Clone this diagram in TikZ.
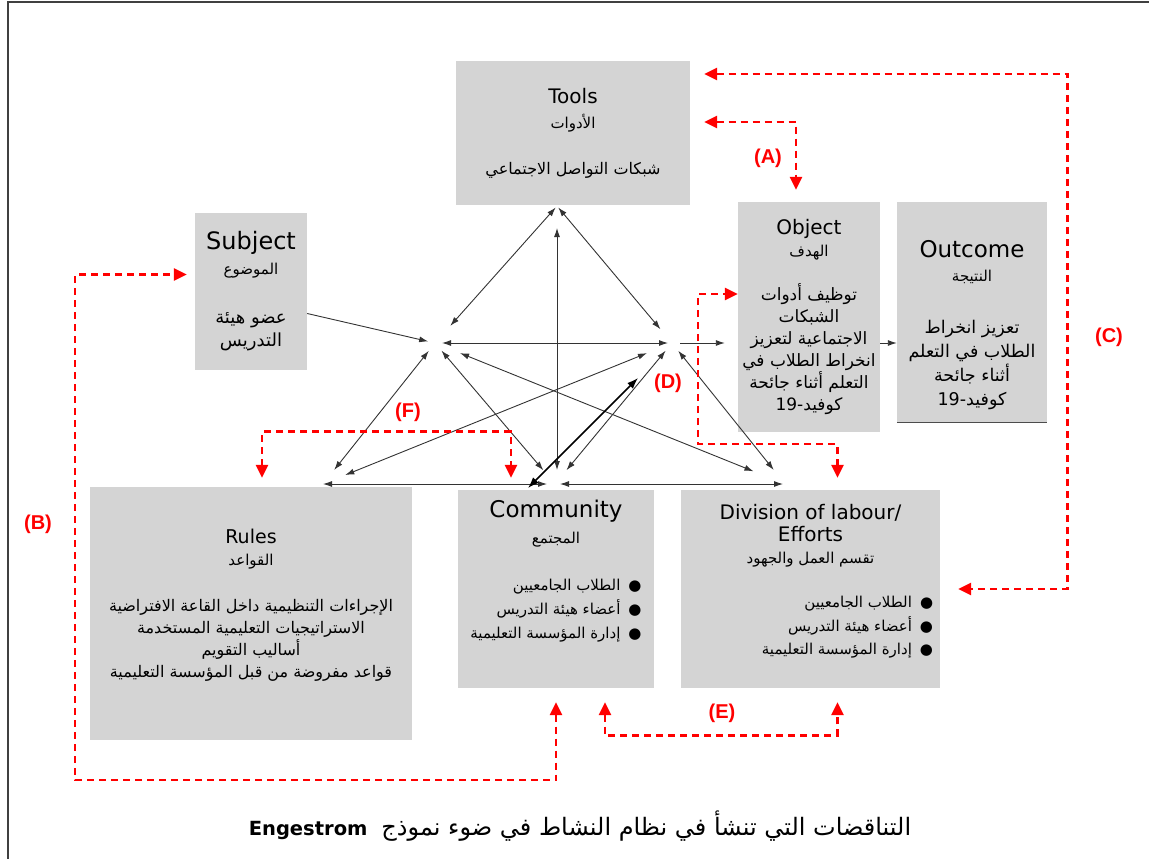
\documentclass[tikz,border=0pt]{standalone}
\usepackage{fontspec}
\setmainfont{DejaVu Sans}
\newfontfamily\arabicfont[Script=Arabic]{DejaVu Sans}
\newfontfamily\tagfont{Liberation Sans}
\TeXXeTstate=1
\usetikzlibrary{arrows.meta,calc}
\definecolor{boxgray}{RGB}{212,212,212}
\definecolor{contrared}{RGB}{255,0,0}
\newcommand\ar[1]{{\arabicfont\beginR #1\endR}}
\newcommand\fs[2]{\fontsize{#1}{#2}\selectfont}
\newcommand\sub[1]{{\fs{15}{18}\ar{#1}}}

\begin{document}
\begin{tikzpicture}[x=1pt, y=-1pt,
  block/.style  = {fill=boxgray, inner sep=2pt, align=center, font=\fs{17}{22}},
  wire/.style   = {draw=black!80, line width=0.9pt},
  both/.style   = {wire, {Latex[length=9pt,width=6pt]}-{Latex[length=9pt,width=6pt]}},
  one/.style    = {wire, -{Latex[length=9pt,width=6pt]}},
  contra/.style = {draw=contrared, line width=2.8pt, dash pattern=on 7pt off 5pt},
  tips/.style   = {{Triangle[length=13pt,width=12pt]}-{Triangle[length=13pt,width=12pt]}},
  tag/.style    = {text=contrared, font=\tagfont\bfseries\fs{20}{24}}
]
  \useasboundingbox (0,0) rectangle (1149,859);
  \draw[black!75, line width=1.6pt] (1149,2) -- (8,2) -- (8,859);

  % Caixas
  \node[block, minimum width=234pt, minimum height=144pt, font=\fs{16}{22}] (Tools) at (573,133)
    {{\fs{20}{24}Tools}\\[3pt] \sub{الأدوات}\\[24pt] \ar{شبكات التواصل الاجتماعي}\\[-18pt] \mbox{}};
  \node[block, minimum width=112pt, minimum height=157pt, font=\fs{18}{23}] (Subject) at (251,291.5)
    {{\fs{24}{28}Subject}\\[2pt] \sub{الموضوع}\\[26pt] \ar{عضو هيئة}\\ \ar{التدريس}};
  \node[block, minimum width=142pt, minimum height=230pt] (Object) at (809,317)
    {{\fs{20}{24}Object}\\ \sub{الهدف}\\[22pt] \ar{توظيف أدوات}\\ \ar{الشبكات}\\
     \ar{الاجتماعية لتعزيز}\\ \ar{انخراط الطلاب في}\\ \ar{التعلم أثناء جائحة}\\
     \ar{كوفيد-\beginL 19\endL}};
  \node[block, minimum width=150pt, minimum height=220pt, font=\fs{17.5}{24}] (Outcome) at (972,312)
    {\mbox{}\\[20pt] {\fs{23}{28}Outcome}\\ \sub{النتيجة}\\[28pt] \ar{تعزيز انخراط}\\
     \ar{الطلاب في التعلم}\\ \ar{أثناء جائحة}\\ \ar{كوفيد-\beginL 19\endL}};
  \node[block, minimum width=322pt, minimum height=253pt, font=\fs{16}{22}] (Rules) at (251,613.5)
    {{\fs{19}{24}Rules}\\ \sub{القواعد}\\[24pt]
     \ar{الإجراءات التنظيمية داخل القاعة الافتراضية}\\
     \ar{الاستراتيجيات التعليمية المستخدمة}\\ \ar{أساليب التقويم}\\
     \ar{قواعد مفروضة من قبل المؤسسة التعليمية}\\[-2pt] \mbox{}};
  \node[block, minimum width=196pt, minimum height=198pt, font=\fs{15}{22}] (Community) at (556,589)
    {{\fs{23}{28}Community}\\[4pt] \sub{المجتمع}\\[27pt]
     \begin{tabular}{@{}r@{}}
       \ar{●\hspace{8pt}الطلاب الجامعيين}\\[2pt]
       \ar{●\hspace{8pt}أعضاء هيئة التدريس}\\[2pt]
       \ar{●\hspace{8pt}إدارة المؤسسة التعليمية}
     \end{tabular}\\[32pt] \mbox{}};
  \node[block, minimum width=259pt, minimum height=198pt, font=\fs{15}{22}] (Division) at (810.5,589)
    {{\fs{20}{27}Division of labour/}\\ {\fs{20}{27}Efforts}\\ \sub{تقسم العمل والجهود}\\[24pt]
     \hspace*{74pt}\begin{tabular}{@{}r@{}}
       \ar{●\hspace{8pt}الطلاب الجامعيين}\\[2pt]
       \ar{●\hspace{8pt}أعضاء هيئة التدريس}\\[1pt]
       \ar{●\hspace{8pt}إدارة المؤسسة التعليمية}
     \end{tabular}\\[12pt] \mbox{}};
  \draw[black!70, line width=1pt] (Outcome.south west) -- (Outcome.south east);

  % Vertices do triangulo
  \coordinate (T)  at (557,206);
  \coordinate (L)  at (435,343);
  \coordinate (R)  at (672,343);
  \coordinate (BL) at (323,484);
  \coordinate (BC) at (555,484);
  \coordinate (BR) at (785,484);

  % Setas pretas
  \draw[both, shorten <=2pt, shorten >=23pt] (T) -- (L);
  \draw[both, shorten <=2pt, shorten >=18pt] (T) -- (R);
  \draw[both, shorten <=22pt, shorten >=14pt] (T) -- (T |- BC);
  \draw[both, shorten <=7pt, shorten >=4pt] (L) -- (R);
  \draw[one, shorten >=7pt] (Subject.east) ++(0,22) -- (L);
  \draw[both, shorten <=10pt, shorten >=18pt] (L) -- (BL);
  \draw[both, shorten <=10pt, shorten >=18pt] (L) -- (BC);
  \draw[both, shorten <=10pt, shorten >=18pt] (R) -- (BC);
  \draw[both, shorten <=10pt, shorten >=18pt] (R) -- (BR);
  \draw[both, shorten <=27pt, shorten >=34pt] (L) -- (BR);
  \draw[both, shorten <=27pt, shorten >=24pt] (R) -- (BL);
  \draw[both, shorten >=8pt] (BL) -- (BC);
  \draw[both, shorten <=5pt, shorten >=2pt] (BC) -- (BR);
  \draw[black, line width=1.6pt, {Latex[length=11pt,width=8pt]}-{Latex[length=11pt,width=8pt]}]
    ($(R)+(-34,35)$) -- ($(BC)+(-27,4)$);
  \draw[one, shorten <=8pt, shorten >=13pt] (R) -- (Object.west |- R);
  \draw[one] (Object.east |- R) -- (Outcome.west |- R);

  % Contradicoes
  \coordinate (Bcorner) at (75,780);
  \coordinate (Dcorner) at (698,444);
  \draw[contra, tips] ($(Tools.east)+(14,-11)$) -| ($(Object.north)+(-13,-12)$);
  \draw[contra, tips] ($(Community.south)+(0,14)$) |- (Bcorner) |- ($(Subject.west)+(-8,-17)$);
  \draw[contra, tips] ($(Tools.east)+(14,-59)$) -| ($(Outcome.east)+(20,0)$) |- ($(Division.east)+(18,0)$);
  \draw[contra, tips] ($(Division.north)+(27,-12)$) |- (Dcorner) |- ($(Object.west)+(0,-23)$);
  \draw[contra, tips] ($(Community.south)+(49,14)$) -- ++(0,33) -| ($(Division.south)+(27,14)$);
  \draw[contra, tips] ($(Rules.north)+(11,-9)$) -- ++(0,-46) -| ($(Community.north)+(-45,-12)$);

  \node[tag] (tagA) at (768,158) {(A)};
  \node[tag] (tagB) at (38,524)  {(B)};
  \node[tag] (tagC) at (1109,337) {(C)};
  \node[tag] (tagD) at (668,383) {(D)};
  \node[tag] (tagE) at (722,713) {(E)};
  \node[tag] (tagF) at (408,412) {(F)};

  % Titulo
  \node (caption) at (580,826)
    {\ar{\fs{24}{28}التناقضات التي تنشأ في نظام النشاط في ضوء نموذج\hspace{14pt}\beginL{\normalfont\bfseries\fs{19.5}{24}Engestrom}\endL}};
\end{tikzpicture}
\end{document}
